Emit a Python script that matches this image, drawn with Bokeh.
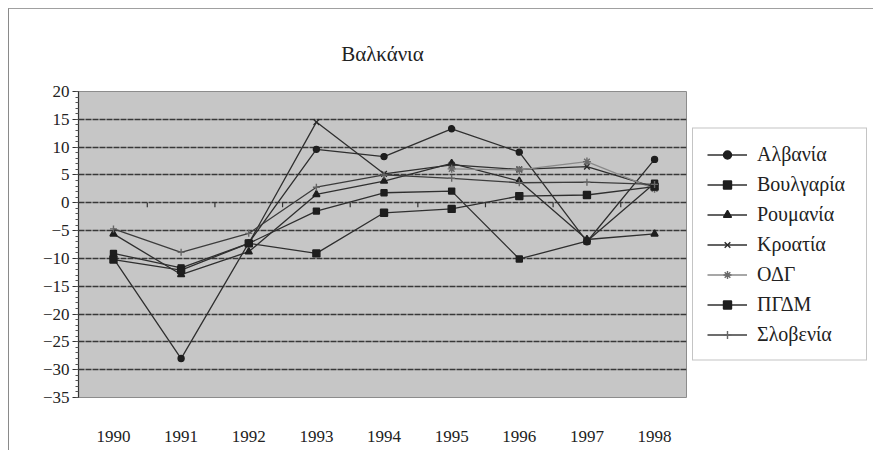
import numpy as np
from bokeh.plotting import figure
from bokeh.models import Legend, LegendItem, FixedTicker, Range1d
from bokeh.embed import file_html
from bokeh.resources import INLINE

nan = float("nan")

years = [1990, 1991, 1992, 1993, 1994, 1995, 1996, 1997, 1998]
albania = [-10.0, -28.0, -7.2, 9.6, 8.3, 13.3, 9.1, -7.0, 7.8]
bulgaria = [-9.1, -11.7, -7.3, -1.5, 1.8, 2.1, -10.1, -6.9, 3.5]
romania = [-5.6, -12.9, -8.8, 1.5, 3.9, 7.1, 3.9, -6.6, -5.6]
croatia = [nan, nan, -7.3, 14.5, 5.2, 6.8, 6.0, 6.5, 2.8]
fry = [nan, nan, nan, nan, nan, 6.1, 5.9, 7.4, 2.5]
fyrom = [-10.2, -12.1, -7.3, -9.1, -1.8, -1.1, 1.2, 1.4, 2.9]
slovenia = [-4.7, -8.9, -5.5, 2.8, 5.0, 4.4, 3.6, 3.7, 3.3]

names = ["Αλβανία", "Βουλγαρία", "Ρουμανία", "Κροατία", "ΟΔΓ", "ΠΓΔΜ", "Σλοβενία"]
series = [albania, bulgaria, romania, croatia, fry, fyrom, slovenia]
y_ticks = list(range(-35, 21, 5))
grid_ticks = [t for t in y_ticks if t < 20]

SERIF = "Liberation Serif"

p = figure(frame_width=608, frame_height=306, output_backend="svg",
           toolbar_location=None,
           x_range=Range1d(1989.483, 1998.472), y_range=Range1d(-35, 20),
           min_border_left=69, min_border_right=0, min_border_top=82,
           min_border_bottom=53)
p.styles = {"margin-left": "8px", "margin-top": "8px",
            "border-left": "1px solid #8a8a8a", "border-top": "1px solid #a0a0a0"}

p.background_fill_color = "#c6c6c6"
p.border_fill_color = "white"
p.outline_line_color = "#8c8c8c"
p.outline_line_width = 1

# title
p.title.text = "Βαλκάνια"
p.title.text_font = SERIF
p.title.text_font_size = "21px"
p.title.text_font_style = "normal"
p.title.text_color = "#222222"
p.title.align = "center"
p.title.offset = -15
p.title.standoff = 52

# grid
p.xgrid.grid_line_color = None
p.ygrid.ticker = FixedTicker(ticks=grid_ticks)
p.ygrid.grid_line_color = "#383838"
p.ygrid.grid_line_width = 1.4
p.ygrid.grid_line_dash = "6 1"

# y axis
ya = p.yaxis[0]
ya.ticker = FixedTicker(ticks=y_ticks, minor_ticks=list(range(-35, 21)))
ya.axis_line_color = "#333333"
ya.axis_line_width = 1.2
ya.major_tick_out = 6
ya.major_tick_in = 0
ya.minor_tick_out = 3
ya.minor_tick_in = 0
ya.major_tick_line_color = "#333333"
ya.minor_tick_line_color = "#555555"
ya.major_label_text_font = SERIF
ya.major_label_text_font_size = "17px"
ya.major_label_text_color = "#222222"
ya.major_label_standoff = 3

# x axis
xa = p.xaxis[0]
xa.ticker = FixedTicker(ticks=years)
xa.axis_line_color = None
xa.major_tick_line_color = None
xa.minor_tick_line_color = None
xa.major_label_text_font = SERIF
xa.major_label_text_font_size = "17px"
xa.major_label_text_color = "#222222"
xa.major_label_standoff = 27

# category-boundary ticks on the zero axis line
mids = [(a + b) / 2 for a, b in zip(years[:-1], years[1:])]
p.segment(x0=mids, y0=[0] * len(mids), x1=mids, y1=[-0.8] * len(mids),
          line_color="#333333", line_width=1.2)

LINE = "#2f2f2f"
styles = [
    dict(marker="circle", size=6, color="#1e1e1e", line=LINE),
    dict(marker="square", size=6, color="#1e1e1e", line=LINE),
    dict(marker="triangle", size=7, color="#1e1e1e", line=LINE),
    dict(marker="x", size=8, color="#2a2a2a", line=LINE),
    dict(marker="asterisk", size=8, color="#6a6a6a", line="#8a8a8a"),
    dict(marker="square", size=7, color="#1e1e1e", line=LINE),
    dict(marker="cross", size=7, color="#666666", line="#3c3c3c"),
]

items = []
for name, vals, st in zip(names, series, styles):
    ys = np.array(vals, dtype=float)
    lr = p.line(years, ys, line_color=st["line"], line_width=1.3)
    ok = ~np.isnan(ys)
    xs_m = [y for y, k in zip(years, ok) if k]
    ys_m = ys[ok].tolist()
    mr = p.scatter(xs_m, ys_m, marker=st["marker"], size=st["size"],
                   fill_color=st["color"], line_color=st["color"], line_width=1.4)
    items.append(LegendItem(label=name, renderers=[lr, mr]))

legend = Legend(items=items, location="center_left")
legend.label_text_font = SERIF
legend.label_text_font_size = "20px"
legend.label_text_color = "#222222"
legend.glyph_width = 40
legend.glyph_height = 20
legend.label_height = 20
legend.label_width = 95
legend.label_standoff = 10
legend.spacing = 7
legend.padding = 14
legend.margin = 6
legend.border_line_color = "#8a8a8a"
legend.border_line_width = 1
legend.background_fill_color = "white"
legend.background_fill_alpha = 1.0
p.add_layout(legend, "right")

open("out.html", "w").write(file_html(p, INLINE))
